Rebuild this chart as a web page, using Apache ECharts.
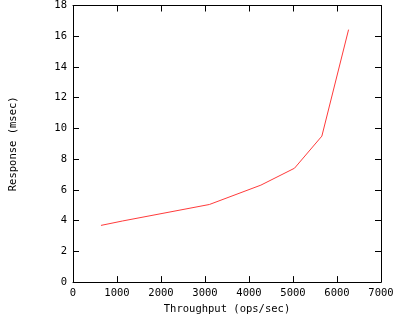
<!DOCTYPE html>
<html><head><meta charset="utf-8">
<script src="https://cdn.jsdelivr.net/npm/echarts@6/dist/echarts.min.js"></script>
<style>html,body{margin:0;padding:0;background:#fff}#c{width:400px;height:320px}</style>
</head><body><div id="c"></div>
<script>
const throughput = [636, 1130, 3100, 4270, 5034, 5656, 6263];
const response = [3.69, 3.98, 5.05, 6.31, 7.41, 9.50, 16.43];
const xTitle = 'Throughput (ops/sec)';
const yTitle = 'Response (msec)';

const font = 'DejaVu Sans Mono';
function lab(){ return {color:'#000', fontFamily:font, fontSize:10.5}; }
function line(){ return {show:true, onZero:false, lineStyle:{color:'#000', width:1}}; }
function tick(){ return {show:true, inside:true, length:6, lineStyle:{color:'#000', width:1}}; }
const fmt = v => String(v);
const chart = echarts.init(document.getElementById('c'), null, {renderer:'canvas'});
chart.setOption({
  animation:false,
  backgroundColor:'#fff',
  grid:{left:70, top:5, right:19, bottom:29, containLabel:false},
  xAxis:[
    {type:'value', min:0, max:7000, interval:1000, position:'bottom',
     axisLine:line(), axisTick:tick(), splitLine:{show:false},
     axisLabel:Object.assign({margin:6, formatter:fmt}, lab()),
     name:xTitle, nameLocation:'middle', nameGap:17,
     nameTextStyle:lab()},
    {type:'value', min:0, max:7000, interval:1000, position:'top',
     axisLine:line(), axisTick:tick(), splitLine:{show:false}, axisLabel:{show:false}}
  ],
  yAxis:[
    {type:'value', min:0, max:18, interval:2, position:'left',
     axisLine:line(), axisTick:tick(), splitLine:{show:false},
     axisLabel:Object.assign({margin:6, formatter:fmt}, lab()),
     name:yTitle, nameLocation:'middle', nameGap:54, nameRotate:90,
     nameTextStyle:lab()},
    {type:'value', min:0, max:18, interval:2, position:'right',
     axisLine:line(), axisTick:tick(), splitLine:{show:false}, axisLabel:{show:false}}
  ],
  series:[{
    type:'line', data:throughput.map((x,i)=>[x,response[i]]),
    showSymbol:false, symbol:'none',
    lineStyle:{color:'#ff3b3b', width:1}, itemStyle:{color:'#ff3b3b'}
  }]
});
</script></body></html>
